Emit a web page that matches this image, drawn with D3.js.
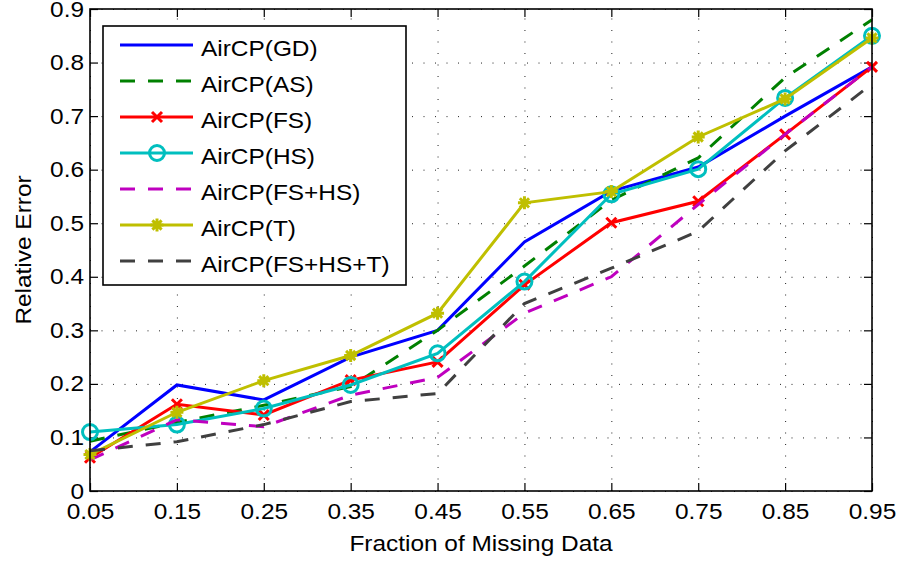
<!DOCTYPE html>
<html>
<head>
<meta charset="utf-8">
<script src="https://cdn.jsdelivr.net/npm/d3@7"></script>
<style>
  html, body { margin: 0; padding: 0; background: #fff; }
  text { font-family: "Liberation Sans", Arial, Helvetica, sans-serif; fill: #000; }
</style>
</head>
<body>
<svg id="chart" width="903" height="563"></svg>
<script>
// ---------------- data ----------------
const xValues = [0.05, 0.15, 0.25, 0.35, 0.45, 0.55, 0.65, 0.75, 0.85, 0.95];
const xTickLabels = ["0.05","0.15","0.25","0.35","0.45","0.55","0.65","0.75","0.85","0.95"];
const yTickValues = [0, 0.1, 0.2, 0.3, 0.4, 0.5, 0.6, 0.7, 0.8, 0.9];
const yTickLabels = ["0","0.1","0.2","0.3","0.4","0.5","0.6","0.7","0.8","0.9"];

const seriesNames = ["AirCP(GD)","AirCP(AS)","AirCP(FS)","AirCP(HS)","AirCP(FS+HS)","AirCP(T)","AirCP(FS+HS+T)"];
const gdValues     = [0.073, 0.198, 0.170, 0.250, 0.300, 0.465, 0.560, 0.605, 0.700, 0.792];
const asValues     = [0.093, 0.128, 0.160, 0.195, 0.300, 0.420, 0.543, 0.622, 0.772, 0.880];
const fsValues     = [0.062, 0.162, 0.142, 0.207, 0.241, 0.385, 0.501, 0.541, 0.666, 0.792];
const hsValues     = [0.110, 0.124, 0.154, 0.198, 0.257, 0.391, 0.554, 0.601, 0.734, 0.850];
const fshsValues   = [0.058, 0.133, 0.120, 0.179, 0.212, 0.332, 0.400, 0.535, 0.666, 0.792];
const tValues      = [0.068, 0.147, 0.206, 0.253, 0.332, 0.538, 0.559, 0.661, 0.732, 0.846];
const fshstValues  = [0.075, 0.092, 0.124, 0.167, 0.182, 0.350, 0.416, 0.485, 0.635, 0.760];

const xLabel = "Fraction of Missing Data";
const yLabel = "Relative Error";

// ---------------- styles ----------------
const styles = [
  {color: "#0000ff", dash: null,    marker: null},
  {color: "#008000", dash: "15,13", marker: null},
  {color: "#ff0000", dash: null,    marker: "x"},
  {color: "#00bfbf", dash: null,    marker: "o"},
  {color: "#bf00bf", dash: "15,13", marker: null},
  {color: "#bfbf00", dash: null,    marker: "*"},
  {color: "#404040", dash: "15,13", marker: null}
];
const allValues = [gdValues, asValues, fsValues, hsValues, fshsValues, tValues, fshstValues];

const SX = 1.11;      // horizontal text stretch
const FS = 22;        // font size

const margin = {left: 90, top: 9, right: 903 - 872, bottom: 563 - 491};
const W = 903 - margin.left - margin.right;
const H = 563 - margin.top - margin.bottom;

const svg = d3.select("#chart");
svg.append("rect").attr("width", 903).attr("height", 563).attr("fill", "#fff");
const g = svg.append("g").attr("transform", `translate(${margin.left},${margin.top})`);

const x = d3.scaleLinear().domain([0.05, 0.95]).range([0, W]);
const y = d3.scaleLinear().domain([0, 0.9]).range([H, 0]);

// grid
const gridX = g.append("g").attr("transform", `translate(0,${H})`)
  .call(d3.axisBottom(x).tickValues(xValues).tickSizeInner(-H).tickSizeOuter(0).tickFormat(""));
const gridY = g.append("g")
  .call(d3.axisLeft(y).tickValues(yTickValues).tickSizeInner(-W).tickSizeOuter(0).tickFormat(""));
[gridX, gridY].forEach(a => {
  a.select(".domain").remove();
  a.selectAll("line").attr("stroke", "#222").attr("stroke-width", 1).attr("stroke-dasharray", "1,10.5");
});

// axes with inward ticks
const tickLen = 8;
const axB = g.append("g").attr("transform", `translate(0,${H})`)
  .call(d3.axisBottom(x).tickValues(xValues).tickSizeInner(-tickLen).tickSizeOuter(0)
        .tickPadding(12).tickFormat((d, i) => xTickLabels[i]));
const axL = g.append("g")
  .call(d3.axisLeft(y).tickValues(yTickValues).tickSizeInner(-tickLen).tickSizeOuter(0)
        .tickPadding(6).tickFormat((d, i) => yTickLabels[i]));
const axT = g.append("g")
  .call(d3.axisTop(x).tickValues(xValues).tickSizeInner(-tickLen).tickSizeOuter(0).tickFormat(""));
const axR = g.append("g").attr("transform", `translate(${W},0)`)
  .call(d3.axisRight(y).tickValues(yTickValues).tickSizeInner(-tickLen).tickSizeOuter(0).tickFormat(""));
[axB, axL, axT, axR].forEach(a => {
  a.select(".domain").remove();
  a.selectAll("line").attr("stroke", "#000").attr("stroke-width", 1.2);
  a.selectAll("text").attr("font-size", FS).attr("font-family", null).style("fill", "#000");
});
axB.selectAll("text").attr("transform", `scale(${SX},1)`);
axL.selectAll("text").attr("x", -6 / SX).attr("transform", `scale(${SX},1)`);

// series
const line = d3.line().x((d, i) => x(xValues[i])).y(d => y(d));

function drawMarker(sel, type, color) {
  if (type === "x") {
    const s = 5;
    sel.append("path").attr("d", `M${-s},${-s}L${s},${s}M${-s},${s}L${s},${-s}`)
      .attr("stroke", color).attr("stroke-width", 3).attr("fill", "none");
  } else if (type === "o") {
    sel.append("circle").attr("r", 7.5).attr("fill", "none")
      .attr("stroke", color).attr("stroke-width", 3);
  } else if (type === "*") {
    const s = 6.5, d = 4.6;
    sel.append("path")
      .attr("d", `M${-s},0L${s},0M0,${-s}L0,${s}M${-d},${-d}L${d},${d}M${-d},${d}L${d},${-d}`)
      .attr("stroke", color).attr("stroke-width", 3).attr("fill", "none");
  }
}

allValues.forEach((vals, k) => {
  const st = styles[k];
  const sg = g.append("g");
  sg.append("path").datum(vals).attr("d", line)
    .attr("fill", "none").attr("stroke", st.color).attr("stroke-width", 3)
    .attr("stroke-linejoin", "miter")
    .attr("stroke-dasharray", st.dash);
  if (st.marker) {
    sg.selectAll("g.m").data(vals).enter().append("g").attr("class", "m")
      .attr("transform", (d, i) => `translate(${x(xValues[i])},${y(d)})`)
      .each(function() { drawMarker(d3.select(this), st.marker, st.color); });
  }
});

// box
g.append("rect").attr("x", 0).attr("y", 0).attr("width", W).attr("height", H)
  .attr("fill", "none").attr("stroke", "#000").attr("stroke-width", 1.6);

// legend
const lg = svg.append("g");
lg.append("rect").attr("x", 103).attr("y", 26).attr("width", 303).attr("height", 259)
  .attr("fill", "#fff").attr("stroke", "#000").attr("stroke-width", 1.6);
const rowY = d3.scalePoint().domain(seriesNames).range([45, 261]);
seriesNames.forEach((name, k) => {
  const st = styles[k];
  const yy = rowY(name);
  lg.append("line").attr("x1", 120).attr("x2", 193).attr("y1", yy).attr("y2", yy)
    .attr("stroke", st.color).attr("stroke-width", 3).attr("stroke-dasharray", st.dash);
  if (st.marker) {
    const mg = lg.append("g").attr("transform", `translate(157,${yy})`);
    drawMarker(mg, st.marker, st.color);
  }
  lg.append("text").attr("transform", `translate(201,${yy + 11}) scale(${SX},1)`)
    .attr("font-size", FS).text(name);
});

// axis labels
svg.append("text")
  .attr("transform", `translate(${margin.left + W / 2},551) scale(${SX},1)`)
  .attr("text-anchor", "middle").attr("font-size", FS).text(xLabel);
svg.append("text")
  .attr("transform", `translate(31,${margin.top + H / 2}) rotate(-90) scale(${SX},1)`)
  .attr("text-anchor", "middle").attr("font-size", FS).text(yLabel);
</script>
</body>
</html>
